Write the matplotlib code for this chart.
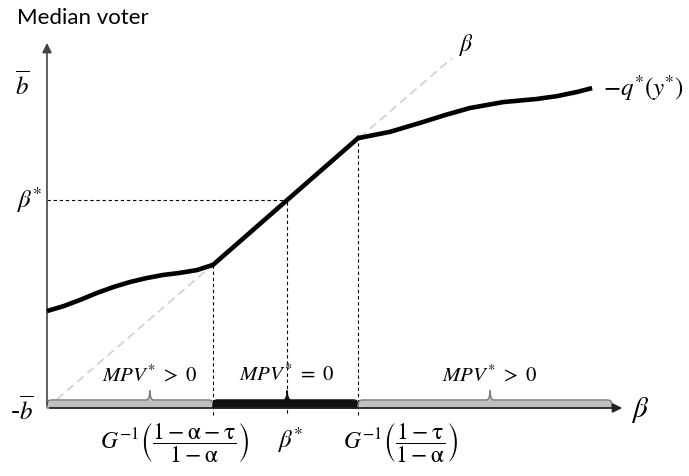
import numpy as np
import matplotlib
matplotlib.use("Agg")
import matplotlib.pyplot as plt
from matplotlib.path import Path
from matplotlib.patches import PathPatch

plt.rcParams['mathtext.fontset'] = 'stix'

# --- data (arbitrary units, diagonal is y = x) ---
left_x = [0.0, 0.41, 0.82, 1.24, 1.65, 2.05, 2.45, 2.86, 3.28, 3.70, 4.10]
left_y = [2.77, 2.91, 3.09, 3.29, 3.46, 3.60, 3.71, 3.80, 3.86, 3.94, 4.09]

mid_x = [4.10, 7.68]
mid_y = [4.09, 7.71]

right_x = [7.68, 8.47, 9.28, 9.83, 10.44, 11.26, 12.10, 12.59, 13.09, 13.46]
right_y = [7.71, 7.89, 8.17, 8.37, 8.57, 8.74, 8.83, 8.91, 9.03, 9.14]

diag_end = 10.0
b_bar = 9.23
beta_star = 5.93
g_low = 4.10      # G^-1((1-a-t)/(1-a))
g_high = 7.68     # G^-1((1-t)/(1-a))
x_end = 14.27
y_end = 10.51
bar_end = 13.95

segments = [(0.0, g_low, '#c0c0c0', '#7a7a7a', 2.54),
            (g_low, g_high, '#111111', '#111111', 5.93),
            (g_high, bar_end, '#c0c0c0', '#7a7a7a', 10.94)]
segment_labels = [r'$MPV^{*}\ >\ 0$', r'$MPV^{*}\ =\ 0$', r'$MPV^{*}\ >\ 0$']

fig = plt.figure(figsize=(6.89, 4.76), dpi=100)
ax = fig.add_axes([0, 0, 1, 1])
ax.set_xlim(-1.160, 15.852)
ax.set_ylim(-1.943, 11.657)
ax.axis('off')

# diagonal 45 degree line
ax.plot([0, diag_end], [0, diag_end], color='#d0d0d0', lw=1.2, ls=(0, (5, 3)), zorder=1)

# dashed guide lines
dash = dict(color='black', lw=0.8, ls=(0, (3, 2.5)), zorder=2)
ax.plot([g_low, g_low], [-0.2, mid_y[0]], **dash)
ax.plot([beta_star, beta_star], [-0.15, beta_star], **dash)
ax.plot([g_high, g_high], [-0.2, mid_y[1]], **dash)
ax.plot([0, beta_star], [beta_star, beta_star], **dash)

# the curve
ax.plot(left_x, left_y, color='black', lw=3.3, solid_capstyle='butt', zorder=4)
ax.plot(mid_x, mid_y, color='black', lw=3.3, zorder=4)
ax.plot(right_x, right_y, color='black', lw=3.3, solid_capstyle='butt', zorder=4)

# braces along the x axis
h = 0.23
tip = 0.50
r = 0.13
for (x0, x1, fc, ec, xm), lab in zip(segments, segment_labels):
    w = 0.09
    verts = [(x0, 0), (x0, h * 0.9), (x0 + r * 0.2, h), (x0 + r, h),
             (xm - w, h), (xm - w * 0.2, h), (xm, tip * 0.8), (xm, tip),
             (xm, tip * 0.8), (xm + w * 0.2, h), (xm + w, h),
             (x1 - r, h), (x1 - r * 0.2, h), (x1, h * 0.9), (x1, 0), (x0, 0)]
    codes = [Path.MOVETO, Path.CURVE4, Path.CURVE4, Path.CURVE4,
             Path.LINETO, Path.CURVE4, Path.CURVE4, Path.CURVE4,
             Path.CURVE4, Path.CURVE4, Path.CURVE4,
             Path.LINETO, Path.CURVE4, Path.CURVE4, Path.CURVE4, Path.CLOSEPOLY]
    ax.add_patch(PathPatch(Path(verts, codes), facecolor=fc, edgecolor=ec, lw=1, zorder=3))
    ax.text(xm, 0.96, lab, fontsize=15, ha='center', va='center')

# axes with arrows
ax.annotate('', xy=(0, y_end), xytext=(0, 0),
            arrowprops=dict(arrowstyle='-|>', color='#444444', lw=1.2, mutation_scale=14))
ax.annotate('', xy=(x_end, 0), xytext=(0, 0),
            arrowprops=dict(arrowstyle='-|>', color='#222222', lw=1.2, mutation_scale=14), zorder=5)

# labels
ax.text(-0.74, 11.13, 'Median voter', fontsize=16, family='Lato', ha='left', va='center')
ax.text(-0.62, b_bar, r'$\overline{b}$', fontsize=18, ha='center', va='center')
ax.text(-0.62, -0.06, r'-$\overline{b}$', fontsize=18, ha='center', va='center')
ax.text(-0.45, beta_star, r'$\beta^{*}$', fontsize=18, ha='center', va='center')
ax.text(14.64, -0.06, r'$\beta$', fontsize=21, ha='center', va='center')
ax.text(10.37, 10.37, r'$\beta$', fontsize=17, ha='center', va='center')
ax.text(13.73, 9.14, r'$-q^{*}(y^{*})$', fontsize=18, ha='left', va='center')

ax.text(3.16, -1.0, r'$G^{-1}\left(\dfrac{1-\mathrm{\alpha}-\mathrm{\tau}}{1-\mathrm{\alpha}}\right)$',
        fontsize=17, ha='center', va='center')
ax.text(6.0, -0.91, r'$\beta^{*}$', fontsize=18, ha='center', va='center')
ax.text(8.72, -1.0, r'$G^{-1}\left(\dfrac{1-\mathrm{\tau}}{1-\mathrm{\alpha}}\right)$',
        fontsize=17, ha='center', va='center')

fig.savefig('out.png', dpi=100)
